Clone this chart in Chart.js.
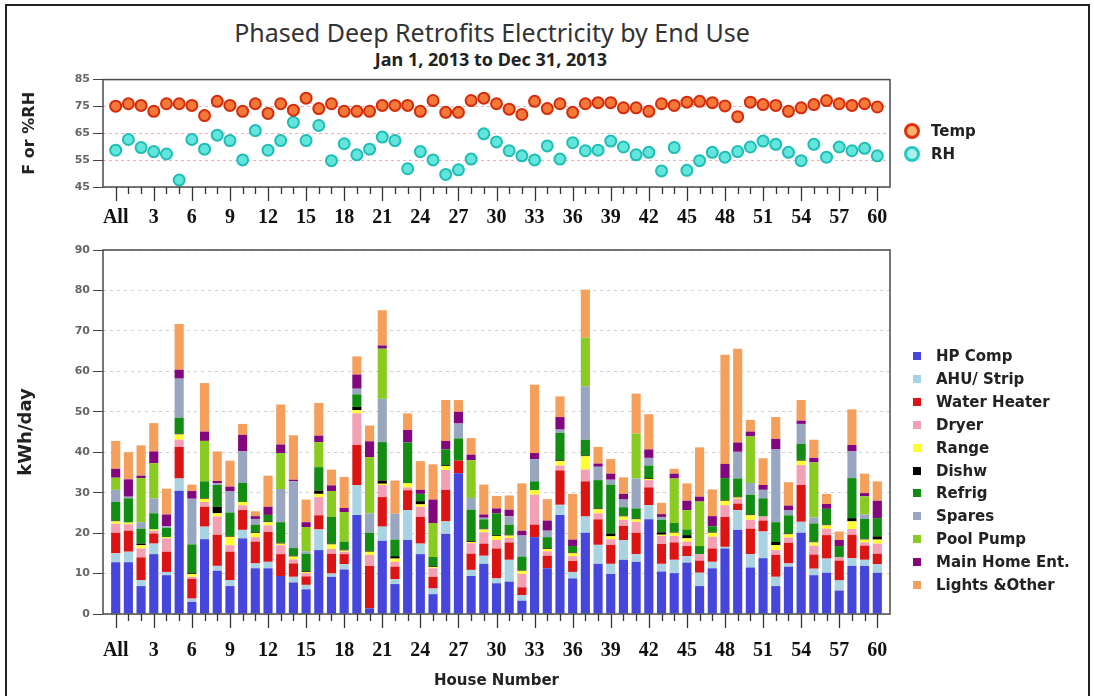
<!DOCTYPE html>
<html>
<head>
<meta charset="utf-8">
<script src="https://cdn.jsdelivr.net/npm/chart.js@4.4.0/dist/chart.umd.min.js"></script>
<style>
  body { margin: 0; width: 1094px; height: 696px; background: #fff; position: relative; overflow: hidden; font-family: 'DejaVu Sans', sans-serif; }
  #frame { position: absolute; left: 5px; top: 4px; width: 1081px; height: 700px; border: 2px solid #222; border-bottom: none; }
  #title { position: absolute; left: 0; top: 15px; width: 984px; text-align: center; font: 25px 'Noto Sans', sans-serif; color: #333; }
  #subtitle { position: absolute; left: 0; top: 47px; width: 982px; text-align: center; font: bold 18px 'Noto Sans', sans-serif; color: #222; }
  canvas { position: absolute; left: 0; }
  #topChart { top: 70px; }
  #barChart { top: 240px; }
  .leg { position: absolute; font: bold 15px 'DejaVu Sans', sans-serif; color: #222; white-space: nowrap; line-height: 18px; }
  .dot { position: absolute; width: 10px; height: 10px; border-radius: 50%; border-width: 3px; border-style: solid; }
  .sq { position: absolute; width: 8px; height: 8px; }
</style>
</head>
<body>
<div id="frame"></div>
<div id="title">Phased Deep Retrofits Electricity by End Use</div>
<div id="subtitle">Jan 1, 2013 to Dec 31, 2013</div>
<canvas id="topChart" width="1094" height="160"></canvas>
<canvas id="barChart" width="1094" height="456"></canvas>
<div id="legends"></div>
<script>
// house labels (All + houses 1..60)
const houses = ['All', '1', '2', '3', '4', '5', '6', '7', '8', '9', '10',
  '11', '12', '13', '14', '15', '16', '17', '18', '19', '20',
  '21', '22', '23', '24', '25', '26', '27', '28', '29', '30',
  '31', '32', '33', '34', '35', '36', '37', '38', '39', '40',
  '41', '42', '43', '44', '45', '46', '47', '48', '49', '50',
  '51', '52', '53', '54', '55', '56', '57', '58', '59', '60'];

// indoor conditions
const temp = [75.1, 76.0, 75.4, 73.2, 76.0, 76.0, 75.4, 71.6, 76.9, 75.4, 73.2, 76.0, 72.4, 76.0, 73.6, 78.1,
  74.2, 76.0, 73.2, 73.2, 73.2, 75.4, 75.4, 75.4, 73.2, 77.2, 72.8, 72.8, 77.2, 78.1, 76.0,
  74.0, 72.0, 76.9, 74.2, 76.0, 72.8, 76.0, 76.4, 76.4, 74.5, 74.5, 73.2, 76.0, 75.4, 76.6,
  76.9, 76.4, 75.2, 71.2, 76.6, 75.7, 75.4, 73.2, 74.5, 75.7, 77.2, 76.0, 75.4, 76.0, 74.8];
const rh = [58.7, 62.7, 59.7, 58.2, 57.3, 47.6, 62.7, 59.1, 64.3, 62.3, 55.1, 66.0, 58.7, 62.3, 69.1, 62.3,
  67.9, 54.8, 61.1, 57.0, 59.1, 63.6, 62.3, 51.8, 58.2, 55.1, 49.7, 51.4, 55.4, 64.8, 61.8,
  58.5, 56.6, 55.1, 60.3, 55.4, 61.5, 58.5, 58.7, 62.1, 59.9, 57.0, 57.9, 51.0, 59.7, 51.2,
  54.8, 57.9, 56.1, 58.2, 59.9, 62.1, 60.9, 57.9, 54.8, 60.9, 56.1, 59.9, 58.5, 59.4, 56.6];

// end uses, kWh/day
const hpComp = [12.8, 12.8, 6.9, 14.8, 9.6, 30.5, 3, 18.5, 10.7, 6.9, 18.7, 11.3, 11.3, 9.4, 7.8, 6.1,
  15.8, 9.2, 11, 24.5, 1.4, 18.1, 7.4, 18.3, 14.8, 4.9, 19.8, 34.8, 9.4, 12.4, 7.6,
  8, 3.3, 19, 11.3, 24.5, 8.8, 20.1, 12.4, 9.9, 13.4, 12.9, 23.4, 10.5, 10.1, 12.7,
  6.9, 11.3, 16.2, 20.8, 11.5, 13.8, 6.9, 11.7, 20.1, 9.6, 10.2, 5.8, 11.9, 11.9, 10.2];
const ahuStrip = [2.2, 2.6, 1.5, 2.6, 0.8, 3, 0.8, 3.1, 1.2, 1.5, 2.1, 1.2, 1.6, 0, 1.4, 1.1,
  5.1, 0.8, 1.3, 7.4, 0, 3.5, 1.2, 7.4, 2.6, 1.4, 3.1, 0, 1.5, 2, 1.2,
  5.4, 1.4, 0, 0, 2.5, 1.6, 4, 4.7, 2.5, 4.9, 1.9, 3.5, 1.9, 3.3, 1.6,
  3.3, 1.6, 0.4, 4.9, 3.3, 6.6, 2.3, 0.8, 2.7, 1.6, 3.5, 2.5, 1.9, 1.5, 2.1];
const waterHeater = [5.1, 5.2, 5.6, 2.5, 5, 7.8, 4.9, 4.9, 7.7, 7, 4.9, 5.4, 7.4, 5.4, 3.3, 2.1,
  3.5, 4.9, 2.5, 9.9, 10.5, 7.3, 3.1, 4.9, 6.6, 2.9, 7.8, 3.1, 4, 3, 7.4,
  4.3, 1.9, 3.1, 3.1, 8.5, 2.7, 8.7, 6.3, 4.7, 3.5, 5.3, 4.4, 4.9, 4.3, 2.5,
  3, 3.3, 7.4, 1.6, 6.3, 2.7, 5.4, 5.1, 9.1, 3.5, 5.8, 4.9, 5.8, 3.5, 2.6];
const dryer = [2.2, 1.6, 2.2, 0.7, 3.3, 1.8, 0.5, 1.2, 4.5, 1.6, 1.2, 1.1, 1.6, 2.2, 1, 0.8,
  4.5, 1.2, 0.6, 7.8, 2.7, 3, 1.2, 0.7, 2.5, 2.1, 4.9, 0, 2.6, 2.8, 2.1,
  1.1, 3.3, 7.4, 1.1, 1.2, 1.2, 2.9, 1.5, 1.4, 1.5, 2.7, 1.8, 2, 1.6, 1.1,
  1.6, 2.9, 2.9, 1.2, 2.2, 1, 1.2, 1.3, 4.9, 2.2, 1.6, 0.8, 1.4, 0.8, 2.5];
const range = [0.6, 0.4, 0.8, 0.3, 0.3, 1.3, 0.7, 0.8, 0.8, 2.1, 0.8, 1, 0.8, 0.4, 0.7, 0.3,
  0.8, 1.1, 0.3, 0.8, 0.8, 0.3, 0.8, 1, 0.6, 0.3, 1, 0, 0.3, 0.7, 1,
  0.6, 0.8, 1.1, 0.6, 1.1, 0.7, 3.3, 1, 0.7, 0.8, 0.6, 0.3, 0.3, 0.8, 0.8,
  0, 1, 1.1, 0.3, 1.1, 0, 1.2, 0.8, 1.1, 0.8, 0.8, 0, 1.9, 0.7, 1];
const dishw = [0.2, 0, 0.4, 0, 0, 0.2, 0.2, 0.2, 1.6, 0.2, 0, 0.2, 0.2, 0.2, 0.2, 0.2,
  0.8, 0.2, 0.2, 0.8, 0.2, 0.8, 0.6, 0, 0.8, 0.2, 0.2, 0, 0.2, 0.2, 0.2,
  0.2, 0.2, 0, 0.2, 0.2, 0.2, 0.2, 0.2, 0.7, 0.2, 0.2, 0.2, 0.6, 0.2, 0.8,
  0, 0.2, 0.2, 0.2, 0.2, 0, 0.8, 0.2, 0.2, 0.2, 0.2, 0, 0.8, 0.2, 0.8];
const refrig = [4.6, 6, 3.7, 4, 2.3, 3.9, 7.1, 4.1, 5.4, 5.8, 4.7, 1.9, 1.6, 5.1, 1.9, 4.3,
  5.8, 6.6, 2, 3.1, 4.5, 9.5, 4.1, 10.1, 1.8, 2.3, 3.9, 5.5, 7.8, 2.3, 5.4,
  2.5, 3.3, 2.2, 2.7, 6.8, 1.6, 3.9, 7, 12.1, 2.1, 2.5, 3.1, 3.1, 2.2, 1.4,
  2, 1.4, 5.4, 4.5, 4.9, 4.5, 4.9, 4.5, 4, 4.5, 3.9, 2.8, 9.9, 4.9, 4.5];
const spares = [3, 0.4, 1.6, 3.7, 0.4, 9.7, 11.3, 0, 0.4, 5.2, 7.8, 1.4, 0, 8.2, 16.5, 0.6,
  0, 0, 0, 1.4, 4.8, 10.7, 6.4, 0, 0, 0, 0, 3.7, 2.9, 0.4, 0,
  2.1, 5.2, 5.5, 1.6, 0.8, 0, 13.2, 3.3, 1.2, 1.9, 7.4, 1.9, 0.7, 0, 0,
  0, 0, 0, 6.6, 2.9, 2.1, 18.1, 1.2, 4.9, 1.5, 0, 0, 6.6, 1.1, 0];
const poolPump = [3, 0, 10.9, 8.7, 0, 0, 0, 10, 0, 0, 0, 0, 0, 8.9, 0, 6,
  6.2, 6.4, 7.3, 0, 13.9, 12.4, 0, 0, 0, 8.4, 0, 0, 9.3, 0, 0,
  0, 0, 0, 0, 0, 0, 12, 0, 0, 0, 11.1, 0, 0, 11, 4.8,
  11, 0, 0, 0, 11.5, 0, 0, 0, 0, 13.6, 0, 0, 0, 4.5, 0];
const mainHomeEnt = [2.2, 4.3, 0.6, 2.9, 2.9, 2.2, 1.9, 2.3, 0.6, 1.2, 4.1, 0.7, 2, 2.1, 0.4, 1.2,
  1.6, 1.4, 1, 3.5, 3.9, 0.8, 0, 3.1, 1, 5.8, 2.1, 2.9, 1.4, 0.8, 1.2,
  1.6, 1.2, 1.5, 2.5, 3.1, 1.6, 0, 0.8, 1.5, 1.4, 0, 2.1, 0.7, 1.2, 2.3,
  1.2, 2.5, 3.5, 2.3, 1.2, 1.2, 2.5, 1.2, 0.8, 1.1, 1.2, 1.5, 1.6, 0.8, 4.3];
const lightsOther = [6.9, 6.7, 7.5, 7, 6.4, 11.3, 1.6, 12, 7.3, 6.4, 2.7, 1.2, 7.7, 9.9, 11, 5.6,
  8.1, 3.9, 7.7, 4.5, 3.9, 8.7, 8.2, 4.1, 7.1, 8.7, 10.1, 2.9, 4.1, 7.4, 3.1,
  3.5, 11.7, 16.9, 5.3, 5.1, 11.3, 11.9, 4.1, 3.6, 4.1, 9.9, 8.7, 2.8, 1.2, 4.3,
  12.2, 6.6, 27, 23.2, 2.9, 6.6, 5.4, 5.8, 5.1, 4.5, 2.5, 2.1, 8.8, 4.8, 4.8];

const useNames = ['HP Comp', 'AHU/ Strip', 'Water Heater', 'Dryer', 'Range', 'Dishw',
  'Refrig', 'Spares', 'Pool Pump', 'Main Home Ent.', 'Lights &Other'];
const useData = [hpComp, ahuStrip, waterHeater, dryer, range, dishw, refrig, spares, poolPump, mainHomeEnt, lightsOther];
const useColors = ['#4646dc', '#a9d3e2', '#dc1414', '#f3a0b4', '#ffff30', '#000000',
  '#128c12', '#98a7bf', '#8acb22', '#82067e', '#f4a05c'];

// one empty slot each side, like the original axis
const xLabels = [''].concat(houses, ['']);
const pad = arr => [null].concat(arr, [null]);
const tickLabel = (v, i) => (i >= 1 && i <= houses.length && (i - 1) % 3 === 0) ? xLabels[i] : '';

// box around plot + short/long house ticks
const framePlugin = {
  id: 'frame',
  afterDraw(chart) {
    const { ctx, chartArea: a } = chart;
    const xs = chart.scales.x;
    ctx.save();
    ctx.strokeStyle = '#4a4a4a';
    ctx.lineWidth = 1.5;
    ctx.strokeRect(a.left, a.top, a.right - a.left, a.bottom - a.top);
    ctx.lineWidth = 1.3;
    ctx.strokeStyle = '#333';
    for (let i = 1; i <= houses.length; i++) {
      const x = Math.round(xs.getPixelForTick(i)) + 0.5;
      const len = (i - 1) % 3 === 0 ? 14 : 7;
      ctx.beginPath();
      ctx.moveTo(x, a.bottom);
      ctx.lineTo(x, a.bottom + len);
      ctx.stroke();
    }
    ctx.restore();
  }
};

const xTickFont = { family: "'Liberation Serif', serif", size: 20, weight: 'bold' };
const yTickFont = { family: "'DejaVu Sans', sans-serif", size: 11, weight: 'bold' };

new Chart(document.getElementById('topChart'), {
  type: 'line',
  data: {
    labels: xLabels,
    datasets: [
      { label: 'Temp', data: pad(temp), showLine: false, pointRadius: 5.5, pointHoverRadius: 5.5,
        pointBackgroundColor: '#f47838', pointBorderColor: '#d42c0c', pointBorderWidth: 2 },
      { label: 'RH', data: pad(rh), showLine: false, pointRadius: 5.5, pointHoverRadius: 5.5,
        pointBackgroundColor: '#62e6dc', pointBorderColor: '#1fbdb5', pointBorderWidth: 2 }
    ]
  },
  options: {
    responsive: false,
    animation: false,
    layout: { padding: { top: 8, right: 204, left: 0, bottom: 0 } },
    plugins: { legend: { display: false }, tooltip: { enabled: false } },
    scales: {
      x: {
        offset: false,
        grid: { display: false, drawTicks: false },
        border: { display: false },
        ticks: { autoSkip: false, maxRotation: 0, padding: 19, font: xTickFont, color: '#111', callback: tickLabel },
        afterFit: s => { s.height = 43; }
      },
      y: {
        min: 45, max: 85,
        ticks: { stepSize: 10, padding: 3, font: yTickFont, color: '#666' },
        grid: { color: '#f2b0b0', tickColor: '#444', tickLength: 10, tickBorderDash: [] },
        border: { display: false, dash: [3, 3] },
        title: { display: true, text: 'F or %RH', color: '#222', padding: { top: 20 },
          font: { family: "'DejaVu Sans', sans-serif", size: 16, weight: 'bold' } },
        afterFit: s => { s.width = 103; }
      }
    }
  },
  plugins: [framePlugin]
});

new Chart(document.getElementById('barChart'), {
  type: 'bar',
  data: {
    labels: xLabels,
    datasets: useNames.map((n, k) => ({
      label: n, data: pad(useData[k]), backgroundColor: useColors[k],
      borderWidth: 0, barPercentage: 0.72, categoryPercentage: 1
    }))
  },
  options: {
    responsive: false,
    animation: false,
    layout: { padding: { top: 10, right: 204, left: 0, bottom: 0 } },
    plugins: { legend: { display: false }, tooltip: { enabled: false } },
    scales: {
      x: {
        stacked: true,
        offset: false,
        grid: { display: false, drawTicks: false },
        border: { display: false },
        ticks: { autoSkip: false, maxRotation: 0, padding: 25, font: xTickFont, color: '#111', callback: tickLabel },
        title: { display: true, text: 'House Number', color: '#222', padding: { bottom: 6 },
          font: { family: "'DejaVu Sans', sans-serif", size: 15, weight: 'bold' } },
        afterFit: s => { s.height = 82; }
      },
      y: {
        stacked: true,
        min: 0, max: 90,
        ticks: { stepSize: 10, padding: 3, font: yTickFont, color: '#666' },
        grid: { color: '#d0d0d0', tickColor: '#444', tickLength: 10, tickBorderDash: [] },
        border: { display: false, dash: [3, 4] },
        title: { display: true, text: 'kWh/day', color: '#222', padding: { top: 16 },
          font: { family: "'DejaVu Sans', sans-serif", size: 18, weight: 'bold' } },
        afterFit: s => { s.width = 103; }
      }
    }
  },
  plugins: [framePlugin]
});

// legends
const legends = document.getElementById('legends');
const condLegend = [['Temp', '#f9b070', '#e0300e', 131], ['RH', '#a8f2ec', '#28c8c0', 154]];
condLegend.forEach(([name, fill, ring, y]) => {
  legends.insertAdjacentHTML('beforeend',
    `<div class="dot" style="left:904px;top:${y - 8}px;background:${fill};border-color:${ring}"></div>` +
    `<div class="leg" style="left:931px;top:${y - 9}px">${name}</div>`);
});
useNames.forEach((n, k) => {
  const y = 356 + k * 22.9;
  legends.insertAdjacentHTML('beforeend',
    `<div class="sq" style="left:913px;top:${y - 4}px;background:${useColors[k]}"></div>` +
    `<div class="leg" style="left:936px;top:${y - 9}px">${n}</div>`);
});
</script>
</body>
</html>
